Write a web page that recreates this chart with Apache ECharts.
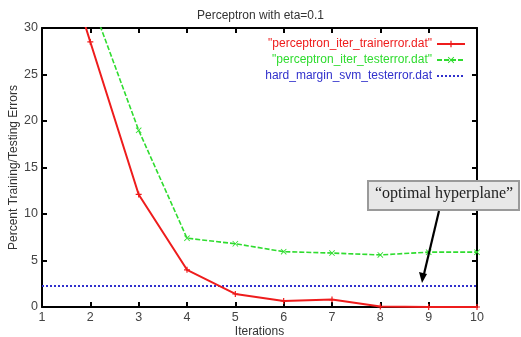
<!DOCTYPE html>
<html>
<head>
<meta charset="utf-8">
<script src="https://cdn.jsdelivr.net/npm/echarts@6/dist/echarts.min.js"></script>
<style>html,body{margin:0;padding:0;background:#fff;}#c{width:521px;height:337px;}</style>
</head>
<body>
<div id="c"></div>
<script>
const iterations = [1, 2, 3, 4, 5, 6, 7, 8, 9, 10];
const trainError = [45, 28.5, 12.1, 4.0, 1.4, 0.65, 0.8, 0.05, 0, 0];
const testError = [48, 33.1, 19.0, 7.4, 6.8, 5.95, 5.8, 5.6, 5.9, 5.9];
const svmTestError = [2.25, 2.25, 2.25, 2.25, 2.25, 2.25, 2.25, 2.25, 2.25, 2.25];
const seriesNames = ['"perceptron_iter_trainerror.dat"', '"perceptron_iter_testerror.dat"', 'hard_margin_svm_testerror.dat'];
const xTicks = [1, 10, 1];
const yTicks = [0, 30, 5];

const RED = '#ee1c1c', GREEN = '#2fdc2f', BLUE = '#3030cc';
const FONT = '"Liberation Sans", Arial, sans-serif';
const plusPath = 'path://M4,0H6V4H10V6H6V10H4V6H0V4H4Z';
const xPath = 'path://M1,0L5,4L9,0L10,1L6,5L10,9L9,10L5,6L1,10L0,9L4,5L0,1Z';

function pairs(vals) { return iterations.map((x, i) => [x, vals[i]]); }

const chart = echarts.init(document.getElementById('c'), null, {renderer: 'canvas'});
const axisBase = {
  type: 'value', min: 0, max: 0, interval: 1,
  axisLine: {show: true, onZero: false, lineStyle: {color: '#000', width: 2}},
  axisTick: {show: true, inside: true, length: 5, lineStyle: {color: '#000', width: 2}},
  splitLine: {show: false}
};
function legendFor(i, top, color, hideSymbol) {
  const item = {name: seriesNames[i], textStyle: {color: color}};
  if (hideSymbol) item.itemStyle = {opacity: 0};
  return {
    orient: 'vertical', right: 55, top: top, align: 'right',
    itemWidth: 28, itemHeight: 8, itemGap: 0, padding: 0,
    data: [item],
    textStyle: {fontFamily: FONT, fontSize: 12, color: color, padding: [0, 0, 0, 0]},
    selectedMode: false
  };
}
const option = {
  backgroundColor: '#fff',
  animation: false,
  title: {
    text: 'Perceptron with eta=0.1', left: 'center', top: 5,
    textStyle: {fontFamily: FONT, fontSize: 12, fontWeight: 'normal', color: '#333'}
  },
  legend: [legendFor(0, 38, RED), legendFor(1, 54, GREEN), legendFor(2, 70, BLUE, true)],
  grid: {left: 42, right: 44, top: 28, bottom: 30, containLabel: false, outerBoundsMode: 'none'},
  xAxis: [
    Object.assign({}, axisBase, {
      min: xTicks[0], max: xTicks[1], interval: xTicks[2], position: 'bottom',
      name: 'Iterations', nameLocation: 'middle', nameGap: 19, nameMoveOverlap: false,
      nameTextStyle: {fontFamily: FONT, fontSize: 12, color: '#333'},
      axisLabel: {fontFamily: FONT, fontSize: 12.5, color: '#444', margin: 4}
    }),
    Object.assign({}, axisBase, {
      min: xTicks[0], max: xTicks[1], interval: xTicks[2], position: 'top',
      axisLabel: {show: false}
    })
  ],
  yAxis: [
    Object.assign({}, axisBase, {
      min: yTicks[0], max: yTicks[1], interval: yTicks[2], position: 'left',
      name: 'Percent Training/Testing Errors', nameLocation: 'middle', nameGap: 22, nameMoveOverlap: false,
      nameTextStyle: {fontFamily: FONT, fontSize: 12, color: '#333'},
      axisLabel: {fontFamily: FONT, fontSize: 12.5, color: '#444', margin: 4}
    }),
    Object.assign({}, axisBase, {
      min: yTicks[0], max: yTicks[1], interval: yTicks[2], position: 'right',
      axisLabel: {show: false}
    })
  ],
  series: [
    {
      name: seriesNames[0], type: 'line', data: pairs(trainError), clip: true,
      color: RED, lineStyle: {color: RED, width: 2},
      symbol: plusPath, symbolSize: 6, itemStyle: {color: RED}, z: 4
    },
    {
      name: seriesNames[1], type: 'line', data: pairs(testError), clip: true,
      color: GREEN, lineStyle: {color: GREEN, width: 1.6, type: [5, 2]},
      symbol: xPath, symbolSize: 6, itemStyle: {color: GREEN}, z: 3
    },
    {
      name: seriesNames[2], type: 'line', data: pairs(svmTestError), clip: true,
      color: BLUE, lineStyle: {color: BLUE, width: 2, type: [2, 2]},
      symbol: 'none', showSymbol: false, itemStyle: {color: BLUE}, z: 2
    }
  ],
  graphic: [
    {
      type: 'rect', left: 367, top: 180, z: 100,
      shape: {width: 151, height: 29},
      style: {fill: '#e8e8e8', stroke: '#9a9a9a', lineWidth: 2}
    },
    {
      type: 'text', left: 375, top: 186, z: 101,
      style: {text: '\u201Coptimal hyperplane\u201D', font: '16px "Liberation Serif", "Times New Roman", serif', fill: '#222'}
    },
    {
      type: 'line', z: 101,
      shape: {x1: 439, y1: 211, x2: 424, y2: 274},
      style: {stroke: '#000', lineWidth: 2.2}
    },
    {
      type: 'polygon', z: 101,
      shape: {points: [[422, 283], [419, 272], [427, 274]]},
      style: {fill: '#000'}
    }
  ]
};
chart.setOption(option);
</script>
</body>
</html>
